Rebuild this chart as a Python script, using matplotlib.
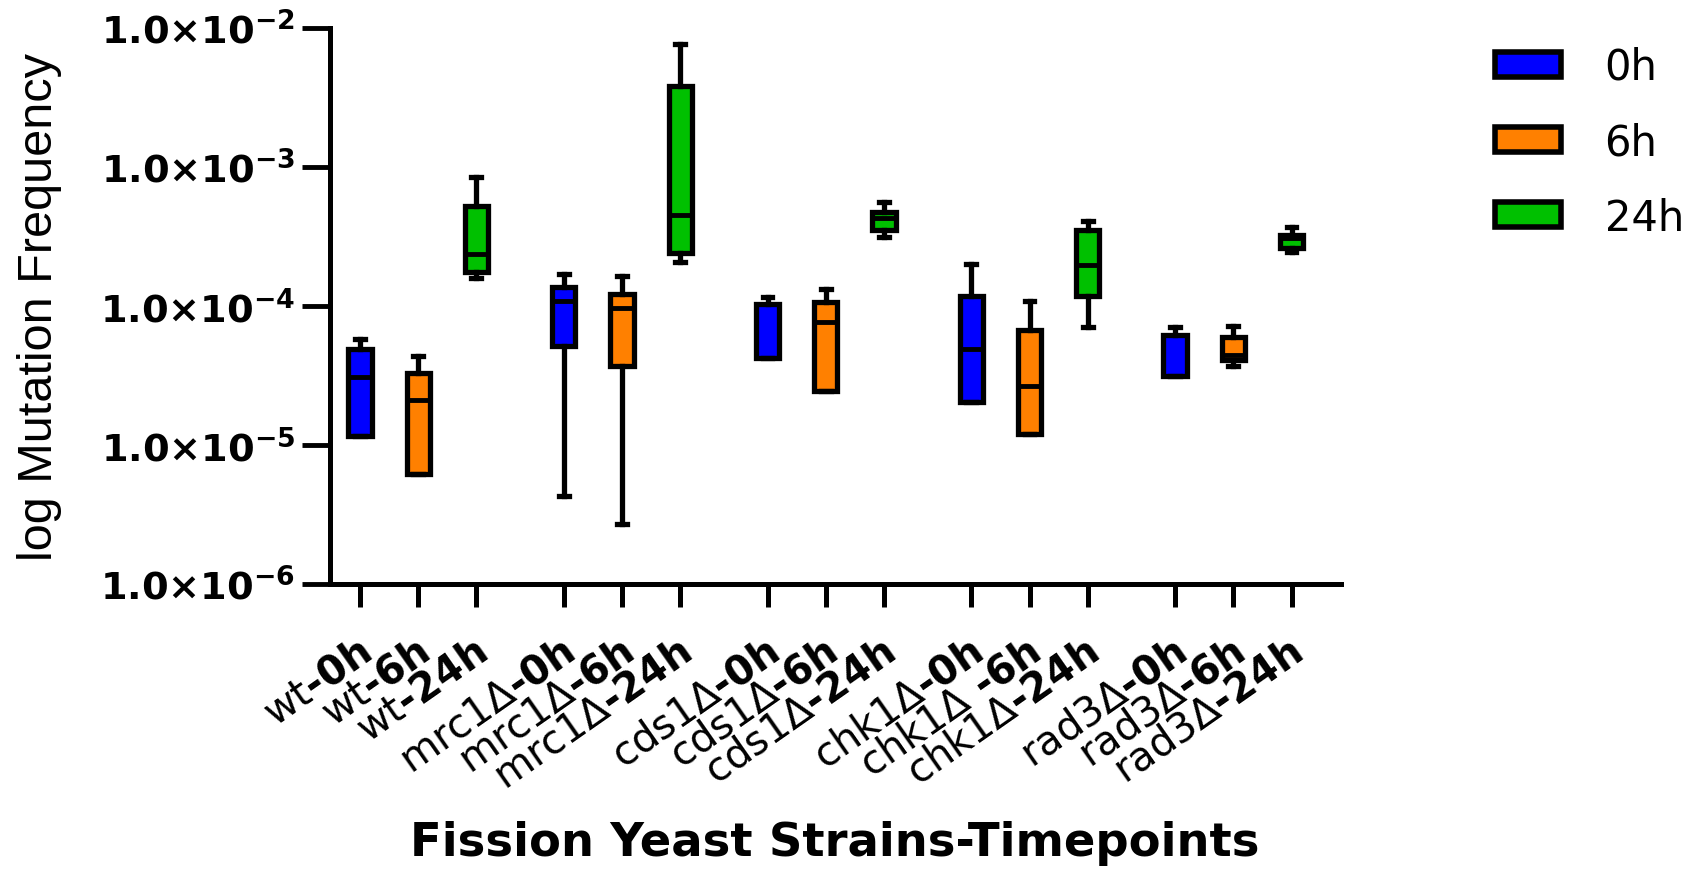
import matplotlib
matplotlib.use("Agg")
import matplotlib.pyplot as plt
import matplotlib.transforms as mtransforms
from matplotlib.patches import Patch
from matplotlib.ticker import NullLocator
import numpy as np

# data (mutation frequency)
tick_labels = ['wt-0h', 'wt-6h', 'wt-24h',
               'mrc1Δ-0h', 'mrc1Δ-6h', 'mrc1Δ-24h',
               'cds1Δ-0h', 'cds1Δ-6h', 'cds1Δ-24h',
               'chk1Δ-0h', 'chk1Δ -6h', 'chk1Δ-24h',
               'rad3Δ-0h', 'rad3Δ-6h', 'rad3Δ-24h']
timepoints = ['0h', '6h', '24h']

whislo = [1.15e-5, 6.2e-6, 1.57e-4,
          4.3e-6, 2.7e-6, 2.05e-4,
          4.2e-5, 2.45e-5, 3.1e-4,
          2.05e-5, 1.2e-5, 7.0e-5,
          3.15e-5, 3.7e-5, 2.43e-4]
q1 = [1.15e-5, 6.2e-6, 1.75e-4,
      5.1e-5, 3.7e-5, 2.38e-4,
      4.2e-5, 2.45e-5, 3.5e-4,
      2.05e-5, 1.2e-5, 1.18e-4,
      3.15e-5, 4.1e-5, 2.6e-4]
median = [3.1e-5, 2.1e-5, 2.35e-4,
          1.09e-4, 9.6e-5, 4.5e-4,
          1.03e-4, 7.6e-5, 4.3e-4,
          4.9e-5, 2.65e-5, 1.96e-4,
          6.2e-5, 4.4e-5, 3.05e-4]
q3 = [4.9e-5, 3.3e-5, 5.2e-4,
      1.36e-4, 1.21e-4, 3.8e-3,
      1.03e-4, 1.07e-4, 4.7e-4,
      1.18e-4, 6.7e-5, 3.5e-4,
      6.2e-5, 6.0e-5, 3.25e-4]
whishi = [5.8e-5, 4.35e-5, 8.4e-4,
          1.69e-4, 1.64e-4, 7.6e-3,
          1.15e-4, 1.33e-4, 5.6e-4,
          2.0e-4, 1.09e-4, 4.05e-4,
          7.0e-5, 7.2e-5, 3.67e-4]

yticks = [1e-6, 1e-5, 1e-4, 1e-3, 1e-2]

colors = ['#0000ff', '#ff8000', '#00c000']

plt.rcParams['mathtext.fontset'] = 'custom'
plt.rcParams['mathtext.rm'] = 'DejaVu Sans'
plt.rcParams['mathtext.default'] = 'regular'

fig = plt.figure(figsize=(17.07, 8.70), dpi=100)
ax = fig.add_axes([330 / 1707, 1 - 585 / 870, (1341 - 330) / 1707, (585 - 28.5) / 870])

# three timepoints per strain, a gap between strains
positions = [(i // 3) * 3.5 + i % 3 for i in range(len(tick_labels))]
box_colors = [colors[i % 3] for i in range(len(tick_labels))]

stats = []
for i in range(len(tick_labels)):
    stats.append({'whislo': whislo[i], 'q1': q1[i], 'med': median[i],
                  'q3': q3[i], 'whishi': whishi[i], 'fliers': []})

bp = ax.bxp(stats, positions=positions, widths=0.40, capwidths=0.17,
            patch_artist=True, showfliers=False, manage_ticks=False,
            boxprops=dict(linewidth=3.8, edgecolor='black'),
            whiskerprops=dict(linewidth=3.8, color='black'),
            capprops=dict(linewidth=3.8, color='black'),
            medianprops=dict(linewidth=3.5, color='black'))
for patch, c in zip(bp['boxes'], box_colors):
    patch.set_facecolor(c)

ax.set_yscale('log')
ax.set_ylim(1e-6, 1e-2)
ax.set_xlim(-0.515, 16.85)

for s in ['top', 'right']:
    ax.spines[s].set_visible(False)
for s in ['left', 'bottom']:
    ax.spines[s].set_linewidth(3.6)

ax.set_yticks(yticks)
ax.yaxis.set_minor_locator(NullLocator())
ax.set_yticklabels([r'1.0×10$^{%d}$' % int(round(np.log10(v))) for v in yticks],
                   fontsize=27.5, fontweight='bold', family='DejaVu Sans')
ax.tick_params(axis='y', direction='out', length=20, width=3.5, pad=5)

# strain part regular, timepoint part bold
xlabels = []
for t in tick_labels:
    strain, tp = t.rsplit('-', 1)
    sp = ' ' if strain.endswith(' ') else ''
    xlabels.append(r'$\mathrm{%s}$%s-%s' % (strain.strip(), sp, tp))
ax.set_xticks(positions)
ax.set_xticklabels(xlabels, rotation=35, ha='right', va='top',
                   rotation_mode='anchor', fontsize=29, fontweight='bold',
                   family='DejaVu Sans')
ax.tick_params(axis='x', direction='out', length=16.5, width=3.6, pad=17.5)
shift = mtransforms.ScaledTranslation(-0.04, 0, fig.dpi_scale_trans)
for lbl in ax.get_xticklabels():
    lbl.set_transform(lbl.get_transform() + shift)

fig.text(40 / 1707, 1 - 307 / 870, 'log Mutation Frequency', rotation=90,
         ha='center', va='center', fontsize=35, family='Liberation Sans')
fig.text(835 / 1707, 1 - 844 / 870, 'Fission Yeast Strains-Timepoints',
         ha='center', va='center', fontsize=33.5, fontweight='bold',
         family='DejaVu Sans')

handles = [Patch(facecolor=c, edgecolor='black', linewidth=4, label=t)
           for c, t in zip(colors, timepoints)]
fig.legend(handles=handles, loc='upper left', bbox_to_anchor=(1495 / 1707, 1 - 47 / 870),
           frameon=False, borderpad=0, borderaxespad=0, handlelength=1.58,
           handleheight=0.55, handletextpad=1.05, labelspacing=0.80,
           prop={'family': 'DejaVu Sans', 'size': 30})

fig.savefig('out.png', dpi=100)
